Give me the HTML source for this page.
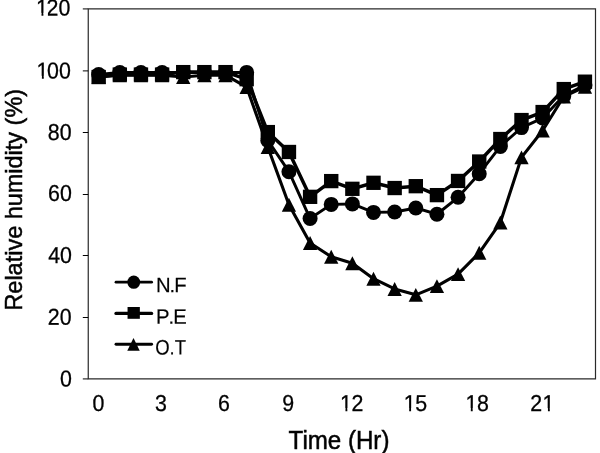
<!DOCTYPE html><html><head><meta charset="utf-8"><style>html,body{margin:0;padding:0;background:#fff;}svg{display:block;}text{font-family:"Liberation Sans",sans-serif;fill:#000;}</style></head><body>
<svg width="600" height="453" viewBox="0 0 600 453">
<rect width="600" height="453" fill="#fff"/>
<g opacity="0.999">
<g stroke="#2a2a2a" stroke-width="1.2" fill="none">
<path d="M88.25,8.9 H595.5 V378.9 H88.25 Z"/>
</g>
<g stroke="#000" stroke-width="1">
<line x1="82.8" x2="88.25" y1="70.9" y2="70.9"/>
<line x1="82.8" x2="88.25" y1="132.5" y2="132.5"/>
<line x1="82.8" x2="88.25" y1="194.5" y2="194.5"/>
<line x1="82.8" x2="88.25" y1="255.5" y2="255.5"/>
<line x1="82.8" x2="88.25" y1="317.5" y2="317.5"/>
</g>
<g stroke="#2a2a2a" stroke-width="1.2">
<line x1="82.8" x2="88.25" y1="8.9" y2="8.9"/>
<line x1="82.8" x2="88.25" y1="378.9" y2="378.9"/>
</g>
<text transform="translate(59.95,386.55) rotate(0.05) scale(0.93,1)" font-size="23.0" text-anchor="start" stroke="#000" stroke-width="0.3">0</text>
<text transform="translate(47.81,324.70) rotate(0.05) scale(0.93,1)" font-size="23.0" text-anchor="start" stroke="#000" stroke-width="0.3">20</text>
<text transform="translate(48.21,263.00) rotate(0.05) scale(0.93,1)" font-size="23.0" text-anchor="start" stroke="#000" stroke-width="0.3">40</text>
<text transform="translate(48.06,201.00) rotate(0.05) scale(0.93,1)" font-size="23.0" text-anchor="start" stroke="#000" stroke-width="0.3">60</text>
<text transform="translate(47.81,140.00) rotate(0.05) scale(0.93,1)" font-size="23.0" text-anchor="start" stroke="#000" stroke-width="0.3">80</text>
<text transform="translate(35.11,78.55) rotate(0.05) scale(0.93,1)" font-size="23.0" text-anchor="start" stroke="#000" stroke-width="0.3"><tspan dx="1.505">1</tspan><tspan dx="-1.505">0</tspan>0</text>
<text transform="translate(34.71,15.60) rotate(0.05) scale(0.93,1)" font-size="23.0" text-anchor="start" stroke="#000" stroke-width="0.3"><tspan dx="1.505">1</tspan><tspan dx="-1.505">2</tspan>0</text>
<text transform="translate(92.52,410.90) rotate(0.05) scale(0.93,1)" font-size="23.0" text-anchor="start" stroke="#000" stroke-width="0.3">0</text>
<text transform="translate(154.95,410.90) rotate(0.05) scale(0.93,1)" font-size="23.0" text-anchor="start" stroke="#000" stroke-width="0.3">3</text>
<text transform="translate(217.97,410.90) rotate(0.05) scale(0.93,1)" font-size="23.0" text-anchor="start" stroke="#000" stroke-width="0.3">6</text>
<text transform="translate(282.30,410.90) rotate(0.05) scale(0.93,1)" font-size="23.0" text-anchor="start" stroke="#000" stroke-width="0.3">9</text>
<text transform="translate(339.67,410.90) rotate(0.05) scale(0.93,1)" font-size="23.0" text-anchor="start" stroke="#000" stroke-width="0.3"><tspan dx="0.430">1</tspan><tspan dx="-0.430">2</tspan></text>
<text transform="translate(403.40,410.90) rotate(0.05) scale(0.93,1)" font-size="23.0" text-anchor="start" stroke="#000" stroke-width="0.3"><tspan dx="0.430">1</tspan><tspan dx="-0.430">5</tspan></text>
<text transform="translate(465.02,410.90) rotate(0.05) scale(0.93,1)" font-size="23.0" text-anchor="start" stroke="#000" stroke-width="0.3"><tspan dx="0.430">1</tspan><tspan dx="-0.430">8</tspan></text>
<text transform="translate(530.25,410.90) rotate(0.05) scale(0.93,1)" font-size="23.0" text-anchor="start" stroke="#000" stroke-width="0.3">2<tspan dx="0.430">1</tspan></text>
<g fill="#fff"><rect x="36.83" y="75.83" width="5.07" height="3.92"/><rect x="43.78" y="75.83" width="4.48" height="3.92"/><rect x="36.43" y="12.88" width="5.07" height="3.92"/><rect x="43.38" y="12.88" width="4.48" height="3.92"/><rect x="340.39" y="408.18" width="5.07" height="3.92"/><rect x="347.34" y="408.18" width="4.48" height="3.92"/><rect x="404.11" y="408.18" width="5.07" height="3.92"/><rect x="411.07" y="408.18" width="4.48" height="3.92"/><rect x="465.74" y="408.18" width="5.07" height="3.92"/><rect x="472.69" y="408.18" width="4.48" height="3.92"/><rect x="542.86" y="408.18" width="5.07" height="3.92"/><rect x="549.82" y="408.18" width="4.48" height="3.92"/></g>
<text transform="translate(339.0,449.0) scale(0.965,1)" font-size="25.0" text-anchor="middle" stroke="#000" stroke-width="0.5">Time (Hr)</text>
<text transform="translate(22.2,199.75) rotate(-90) scale(0.958,1)" font-size="24.5" text-anchor="middle" stroke="#000" stroke-width="0.5">Relative humidity (%)</text>
<g fill="none" stroke="#000" stroke-linejoin="round" stroke-linecap="round">
<polyline points="98.67,74.57 119.81,72.57 140.95,72.57 162.10,72.57 183.24,72.57 204.38,72.57 225.52,72.57 246.66,72.42 267.80,140.40 288.95,171.70 310.09,218.57 331.23,204.38 352.37,203.92 373.51,212.40 394.65,211.94 415.80,207.93 436.94,214.25 458.08,197.29 479.22,173.70 500.36,146.42 521.50,127.61 542.65,118.05 563.79,95.85 584.93,85.06" stroke-width="2.95"/>
<polyline points="98.67,77.04 119.81,74.57 140.95,74.57 162.10,74.57 183.24,72.11 204.38,72.11 225.52,72.11 246.66,79.20 267.80,132.08 288.95,151.97 310.09,196.83 331.23,181.10 352.37,188.81 373.51,182.80 394.65,188.04 415.80,186.19 436.94,195.13 458.08,180.95 479.22,161.52 500.36,139.02 521.50,120.05 542.65,112.04 563.79,89.07 584.93,81.67" stroke-width="3.5"/>
<polyline points="98.67,76.73 119.81,75.19 140.95,75.19 162.10,75.19 183.24,77.04 204.38,75.19 225.52,75.19 246.66,87.06 267.80,147.03 288.95,204.81 310.09,243.02 331.23,256.80 352.37,263.27 373.51,278.69 394.65,288.96 415.80,294.85 436.94,286.09 458.08,274.16 479.22,252.79 500.36,222.57 521.50,157.36 542.65,130.54 563.79,96.47 584.93,86.91" stroke-width="3.1"/>
</g>
<g fill="#000">
<circle cx="98.67" cy="74.57" r="7.50"/>
<circle cx="119.81" cy="72.57" r="7.50"/>
<circle cx="140.95" cy="72.57" r="7.50"/>
<circle cx="162.10" cy="72.57" r="7.50"/>
<circle cx="183.24" cy="72.57" r="7.50"/>
<circle cx="204.38" cy="72.57" r="7.50"/>
<circle cx="225.52" cy="72.57" r="7.50"/>
<circle cx="246.66" cy="72.42" r="7.50"/>
<circle cx="267.80" cy="140.40" r="7.50"/>
<circle cx="288.95" cy="171.70" r="7.50"/>
<circle cx="310.09" cy="218.57" r="7.50"/>
<circle cx="331.23" cy="204.38" r="7.50"/>
<circle cx="352.37" cy="203.92" r="7.50"/>
<circle cx="373.51" cy="212.40" r="7.50"/>
<circle cx="394.65" cy="211.94" r="7.50"/>
<circle cx="415.80" cy="207.93" r="7.50"/>
<circle cx="436.94" cy="214.25" r="7.50"/>
<circle cx="458.08" cy="197.29" r="7.50"/>
<circle cx="479.22" cy="173.70" r="7.50"/>
<circle cx="500.36" cy="146.42" r="7.50"/>
<circle cx="521.50" cy="127.61" r="7.50"/>
<circle cx="542.65" cy="118.05" r="7.50"/>
<circle cx="563.79" cy="95.85" r="7.50"/>
<circle cx="584.93" cy="85.06" r="7.50"/>
<rect x="91.47" y="69.89" width="14.40" height="14.30"/>
<rect x="112.61" y="67.42" width="14.40" height="14.30"/>
<rect x="133.75" y="67.42" width="14.40" height="14.30"/>
<rect x="154.90" y="67.42" width="14.40" height="14.30"/>
<rect x="176.04" y="64.96" width="14.40" height="14.30"/>
<rect x="197.18" y="64.96" width="14.40" height="14.30"/>
<rect x="218.32" y="64.96" width="14.40" height="14.30"/>
<rect x="239.46" y="72.05" width="14.40" height="14.30"/>
<rect x="260.60" y="124.93" width="14.40" height="14.30"/>
<rect x="281.75" y="144.82" width="14.40" height="14.30"/>
<rect x="302.89" y="189.68" width="14.40" height="14.30"/>
<rect x="324.03" y="173.95" width="14.40" height="14.30"/>
<rect x="345.17" y="181.66" width="14.40" height="14.30"/>
<rect x="366.31" y="175.65" width="14.40" height="14.30"/>
<rect x="387.45" y="180.89" width="14.40" height="14.30"/>
<rect x="408.60" y="179.04" width="14.40" height="14.30"/>
<rect x="429.74" y="187.98" width="14.40" height="14.30"/>
<rect x="450.88" y="173.80" width="14.40" height="14.30"/>
<rect x="472.02" y="154.37" width="14.40" height="14.30"/>
<rect x="493.16" y="131.87" width="14.40" height="14.30"/>
<rect x="514.30" y="112.90" width="14.40" height="14.30"/>
<rect x="535.45" y="104.89" width="14.40" height="14.30"/>
<rect x="556.59" y="81.92" width="14.40" height="14.30"/>
<rect x="577.73" y="74.52" width="14.40" height="14.30"/>
<polygon points="98.67,69.78 105.82,83.68 91.52,83.68"/>
<polygon points="119.81,68.24 126.96,82.14 112.66,82.14"/>
<polygon points="140.95,68.24 148.10,82.14 133.80,82.14"/>
<polygon points="162.10,68.24 169.25,82.14 154.95,82.14"/>
<polygon points="183.24,70.09 190.39,83.99 176.09,83.99"/>
<polygon points="204.38,68.24 211.53,82.14 197.23,82.14"/>
<polygon points="225.52,68.24 232.67,82.14 218.37,82.14"/>
<polygon points="246.66,80.11 253.81,94.01 239.51,94.01"/>
<polygon points="267.80,140.08 274.95,153.98 260.65,153.98"/>
<polygon points="288.95,197.86 296.10,211.76 281.80,211.76"/>
<polygon points="310.09,236.07 317.24,249.97 302.94,249.97"/>
<polygon points="331.23,249.85 338.38,263.75 324.08,263.75"/>
<polygon points="352.37,256.32 359.52,270.22 345.22,270.22"/>
<polygon points="373.51,271.74 380.66,285.64 366.36,285.64"/>
<polygon points="394.65,282.01 401.80,295.91 387.50,295.91"/>
<polygon points="415.80,287.90 422.95,301.80 408.65,301.80"/>
<polygon points="436.94,279.14 444.09,293.04 429.79,293.04"/>
<polygon points="458.08,267.21 465.23,281.11 450.93,281.11"/>
<polygon points="479.22,245.84 486.37,259.74 472.07,259.74"/>
<polygon points="500.36,215.62 507.51,229.52 493.21,229.52"/>
<polygon points="521.50,150.41 528.65,164.31 514.35,164.31"/>
<polygon points="542.65,123.59 549.80,137.49 535.50,137.49"/>
<polygon points="563.79,89.52 570.94,103.42 556.64,103.42"/>
<polygon points="584.93,79.96 592.08,93.86 577.78,93.86"/>
</g>
<g stroke="#000" stroke-linecap="round">
<line x1="116.0" x2="151.6" y1="282.2" y2="282.2" stroke-width="2.8"/>
<line x1="116.0" x2="151.6" y1="313.4" y2="313.4" stroke-width="3.3"/>
<line x1="116.0" x2="151.6" y1="344.2" y2="344.2" stroke-width="2.9"/>
</g><g fill="#000">
<ellipse cx="133.75" cy="282.2" rx="6.4" ry="6.65"/>
<rect x="127.55" y="307.00" width="12.3" height="11.8"/>
<polygon points="133.50,338.00 139.75,350.70 127.25,350.70"/>
</g>
<text transform="translate(155.90,292.20) rotate(0.05) scale(0.97,1)" font-size="20.9" text-anchor="start" letter-spacing="-0.95" style="font-kerning:none" stroke="#000" stroke-width="0.2">N.F</text>
<text transform="translate(155.90,323.80) rotate(0.05) scale(0.97,1)" font-size="20.9" text-anchor="start" letter-spacing="-0.95" style="font-kerning:none" stroke="#000" stroke-width="0.2">P.E</text>
<text transform="translate(155.30,354.60) rotate(0.05) scale(0.885,1)" font-size="20.9" text-anchor="start" letter-spacing="-0.1" style="font-kerning:none" stroke="#000" stroke-width="0.2">O.T</text>
</g>
</svg></body></html>
